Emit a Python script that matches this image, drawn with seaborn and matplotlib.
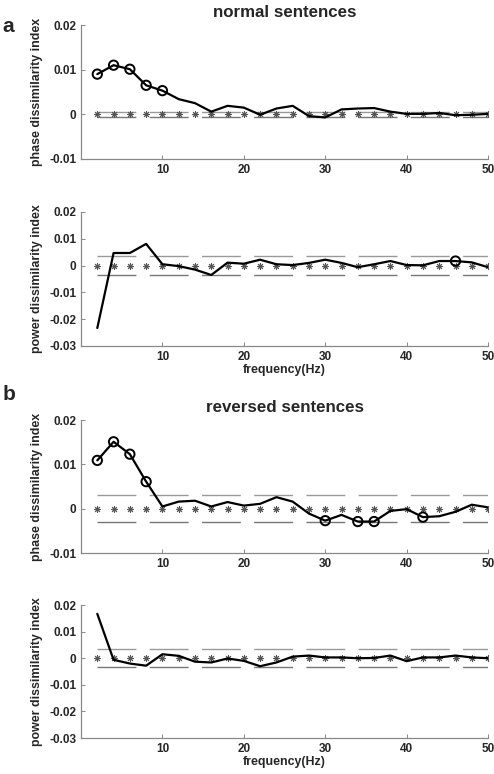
import numpy as np
import pandas as pd
import matplotlib
matplotlib.use('Agg')
import matplotlib.pyplot as plt
import seaborn as sns

sns.set_style('white')
plt.rcParams['font.family'] = ['Liberation Sans', 'DejaVu Sans']
plt.rcParams['font.weight'] = 'bold'

#%% DATA
freq = list(range(2, 52, 2))

phase_normal = [0.0090, 0.0110, 0.0101, 0.0065, 0.0053, 0.0034, 0.0025, 0.0006, 0.0019, 0.0015,
                -0.0001, 0.0013, 0.0019, -0.0004, -0.0007, 0.0011, 0.0013, 0.0014, 0.0006, 0.0001,
                0.0001, 0.0003, -0.0002, -0.0001, 0.0001]
power_normal = [-0.0233, 0.0047, 0.0047, 0.0081, 0.0005, -0.0002, -0.0015, -0.0035, 0.0011, 0.0007,
                0.0022, 0.0005, 0.0002, 0.0010, 0.0022, 0.0010, -0.0006, 0.0005, 0.0017, 0.0002,
                0.0001, 0.0017, 0.0017, 0.0012, -0.0006]
phase_reversed = [0.0109, 0.0151, 0.0123, 0.0061, 0.0005, 0.0016, 0.0018, 0.0005, 0.0015, 0.0007,
                  0.0011, 0.0026, 0.0016, -0.0011, -0.0027, -0.0014, -0.0029, -0.0029, -0.0005, -0.0001,
                  -0.0019, -0.0017, -0.0007, 0.0009, 0.0003]
power_reversed = [0.0167, -0.0006, -0.0020, -0.0028, 0.0015, 0.0009, -0.0013, -0.0016, -0.0001, -0.0010,
                  -0.0030, -0.0016, 0.0006, 0.0010, 0.0003, 0.0003, 0.0000, 0.0001, 0.0010, -0.0011,
                  0.0003, 0.0003, 0.0010, 0.0003, 0.0000]

# significant frequencies (circled)
sig_phase_normal = [2, 4, 6, 8, 10]
sig_power_normal = [46]
sig_phase_reversed = [2, 4, 6, 8, 30, 34, 36, 42]
sig_power_reversed = []

# threshold (dashed lines)
thr_phase_normal = 0.0005
thr_power_normal = 0.0034
thr_phase_reversed = 0.0031
thr_power_reversed = 0.0033

#%% PLOT
fig = plt.figure(figsize=(4.94, 7.74), dpi=100)

panels = [
    # bottom, height, values, sig, thr, ylim, yticks, ylabel, title, xlabel
    (0.7946, 0.1731, phase_normal, sig_phase_normal, thr_phase_normal, (-0.01, 0.02),
     [-0.01, 0, 0.01, 0.02], 'phase dissimilarity index', 'normal sentences', ''),
    (0.5530, 0.1731, power_normal, sig_power_normal, thr_power_normal, (-0.03, 0.02),
     [-0.03, -0.02, -0.01, 0, 0.01, 0.02], 'power dissimilarity index', '', 'frequency(Hz)'),
    (0.2855, 0.1718, phase_reversed, sig_phase_reversed, thr_phase_reversed, (-0.01, 0.02),
     [-0.01, 0, 0.01, 0.02], 'phase dissimilarity index', 'reversed sentences', ''),
    (0.0465, 0.1718, power_reversed, sig_power_reversed, thr_power_reversed, (-0.03, 0.02),
     [-0.03, -0.02, -0.01, 0, 0.01, 0.02], 'power dissimilarity index', '', 'frequency(Hz)'),
]

def fmt(v):
    if v == 0:
        return '0'
    return '%.2f' % v

for bottom, height, vals, sig, thr, ylim, yticks, ylabel, title, xlabel in panels:
    ax = fig.add_axes([0.164, bottom, 0.824, height])
    df = pd.DataFrame({'freq': freq, 'val': vals})
    n = len(freq)

    # threshold lines
    sns.lineplot(x=freq, y=[thr] * n, ax=ax, color='#999999', lw=1.0,
                 linestyle=(0, (28, 9.6)))
    sns.lineplot(x=freq, y=[-thr] * n, ax=ax, color='#777777', lw=1.0,
                 linestyle=(0, (28, 9.6)))
    # null markers
    sns.scatterplot(x=freq, y=[0] * n, ax=ax, marker=(8, 2, 0), color='#555555',
                    s=20, linewidth=0.7, zorder=3)
    # data line
    sns.lineplot(data=df, x='freq', y='val', ax=ax, color='black', lw=1.6, zorder=4)
    sdf = df[df['freq'].isin(sig)]
    if len(sdf):
        sns.scatterplot(data=sdf, x='freq', y='val', ax=ax, marker='o', s=45,
                        facecolor='none', edgecolor='black', linewidth=1.4, zorder=5)

    ax.set_xlim(0, 50)
    ax.set_ylim(*ylim)
    ax.set_xticks([10, 20, 30, 40, 50])
    ax.set_yticks(yticks)
    ax.set_yticklabels([fmt(v) for v in yticks])
    ax.tick_params(direction='in', length=3, width=0.7, color='#888888',
                   labelsize=8.5, pad=3.5, bottom=True, left=True)
    for lab in ax.get_xticklabels() + ax.get_yticklabels():
        lab.set_fontweight('bold')
    for side in ['top', 'right']:
        ax.spines[side].set_visible(False)
    for side in ['left', 'bottom']:
        ax.spines[side].set_color('#888888')
        ax.spines[side].set_linewidth(0.9)
    ax.set_ylabel(ylabel, fontsize=8.9, fontweight='bold', labelpad=4)
    ax.set_xlabel(xlabel, fontsize=8.9, fontweight='bold', labelpad=1)
    if title:
        ax.set_title(title, fontsize=12.2, fontweight='bold', pad=6)

fig.text(0.005, 0.9587, 'a', fontsize=15, fontweight='bold')
fig.text(0.005, 0.483, 'b', fontsize=15, fontweight='bold')

plt.savefig('out.png', dpi=100)
